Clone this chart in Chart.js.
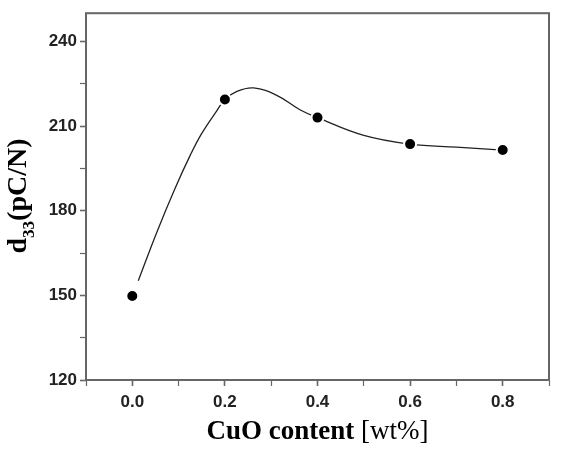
<!DOCTYPE html>
<html>
<head>
<meta charset="utf-8">
<script src="https://cdn.jsdelivr.net/npm/chart.js@4"></script>
<style>
  html, body { margin: 0; padding: 0; background: #fff; }
  #wrap { width: 561px; height: 455px; }
</style>
</head>
<body>
<div id="wrap"><canvas id="myChart"></canvas></div>
<script>
// measured d33 values
const cuoContent = [0.0, 0.2, 0.4, 0.6, 0.8];
const d33Values = [149.8, 219.4, 213.0, 203.6, 201.5];

// guide curve
const curveX = [0.013, 0.053, 0.092, 0.125, 0.150, 0.182, 0.2, 0.226, 0.262, 0.312, 0.362, 0.4, 0.5, 0.6, 0.7, 0.8];
const curveY = [155.2, 172.4, 187.8, 199.6, 207.4, 215.3, 219.4, 222.3, 223.5, 220.9, 215.8, 213.0, 206.7, 203.6, 202.5, 201.5];

const xTickLabels = ['0.0', '0.2', '0.4', '0.6', '0.8'];
const yTickLabels = [120, 150, 180, 210, 240];

const tickFont = { family: '"Liberation Sans", Arial, sans-serif', size: 17, weight: 'bold' };
const axisColor = '#666';

// box + axis titles (mixed weight / subscript, so drawn by hand)
const decor = {
  id: 'decor',
  afterDraw(chart) {
    const { ctx, chartArea: a } = chart;
    ctx.save();
    ctx.strokeStyle = axisColor;
    ctx.lineWidth = 2;
    ctx.strokeRect(a.left, a.top, a.right - a.left, a.bottom - a.top);

    // x title
    ctx.fillStyle = '#000';
    ctx.textBaseline = 'alphabetic';
    const boldF = 'bold 27px "Liberation Serif", "Times New Roman", serif';
    const regF = '27px "Liberation Serif", "Times New Roman", serif';
    const p1 = 'CuO content ', p2 = '[wt%]';
    ctx.font = boldF; const w1 = ctx.measureText(p1).width;
    ctx.font = regF; const w2 = ctx.measureText(p2).width;
    const cx = (a.left + a.right) / 2;
    let x0 = cx - (w1 + w2) / 2;
    ctx.textAlign = 'left';
    ctx.font = boldF; ctx.fillText(p1, x0, 439);
    ctx.font = regF; ctx.fillText(p2, x0 + w1, 439);

    // y title: d33(pC/N)
    ctx.translate(26, 196);
    ctx.rotate(-Math.PI / 2);
    const yb = 'bold 28px "Liberation Serif", "Times New Roman", serif';
    const ys = 'bold 17px "Liberation Serif", "Times New Roman", serif';
    ctx.font = yb; const wd = ctx.measureText('d').width; const wr = ctx.measureText('(pC/N)').width;
    ctx.font = ys; const ws = ctx.measureText('33').width;
    let t = -(wd + ws + wr) / 2;
    ctx.font = yb; ctx.fillText('d', t, 0); t += wd;
    ctx.font = ys; ctx.fillText('33', t, 8); t += ws;
    ctx.font = yb; ctx.fillText('(pC/N)', t, 0);
    ctx.restore();
  }
};

new Chart(document.getElementById('myChart'), {
  type: 'scatter',
  data: {
    datasets: [
      {
        label: 'd33',
        data: cuoContent.map((x, i) => ({ x, y: d33Values[i] })),
        pointRadius: 6,
        pointBackgroundColor: '#000',
        pointBorderColor: '#fff',
        pointBorderWidth: 2,
        showLine: false,
        order: 0
      },
      {
        label: 'fit',
        data: curveX.map((x, i) => ({ x, y: curveY[i] })),
        showLine: true,
        borderColor: '#222',
        borderWidth: 1.3,
        pointRadius: 0,
        tension: 0.4,
        order: 1
      }
    ]
  },
  options: {
    responsive: true,
    maintainAspectRatio: false,
    animation: false,
    layout: { padding: { left: 0, right: 12, top: 13, bottom: 0 } },
    plugins: { legend: { display: false }, tooltip: { enabled: false } },
    scales: {
      x: {
        type: 'linear',
        min: -0.1,
        max: 0.9,
        afterFit: (s) => { s.height = 75; },
        border: { display: false },
        grid: {
          drawOnChartArea: false,
          tickLength: 6,
          tickColor: axisColor,
          tickWidth: (c) => (Math.round(c.tick.value * 10) % 2 === 0 ? 1.6 : 1.2)
        },
        ticks: {
          stepSize: 0.1,
          includeBounds: false,
          maxRotation: 0,
          autoSkip: false,
          padding: 6,
          color: '#222',
          font: tickFont,
          callback: (v) => {
            const k = Math.round(v * 10);
            return k % 2 === 0 && k >= 0 ? xTickLabels[k / 2] : '';
          }
        }
      },
      y: {
        min: 120,
        max: 250,
        afterFit: (s) => { s.width = 86; },
        border: { display: false },
        grid: {
          drawOnChartArea: false,
          tickLength: 6,
          tickColor: axisColor,
          tickWidth: (c) => (c.tick.value % 30 === 0 ? 1.6 : 1.2)
        },
        ticks: {
          stepSize: 15,
          includeBounds: false,
          autoSkip: false,
          padding: 3,
          color: '#222',
          font: tickFont,
          callback: (v) => (yTickLabels.includes(v) ? String(v) : '')
        }
      }
    }
  },
  plugins: [decor]
});
</script>
</body>
</html>
